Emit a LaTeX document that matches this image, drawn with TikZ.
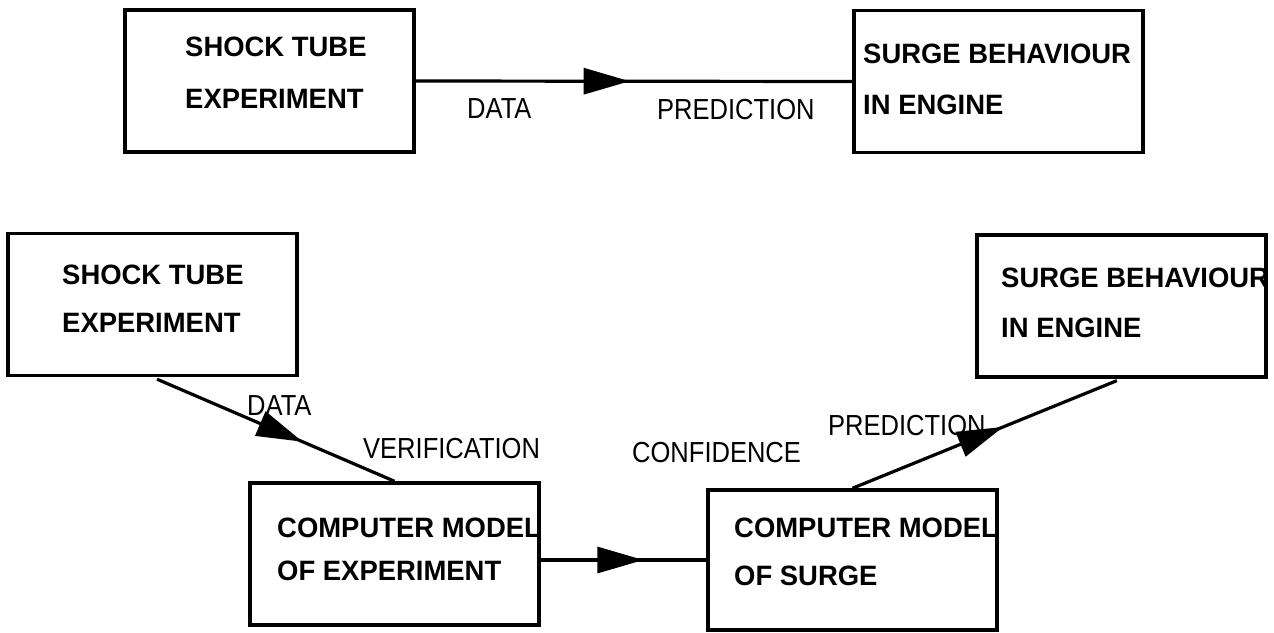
\documentclass[tikz,border=0pt]{standalone}
\usepackage{fontspec}
\setmainfont{Liberation Sans}
\newfontfamily\boxfont[FakeStretch=0.98]{Liberation Sans}
\newfontfamily\labfont[FakeStretch=0.88]{Liberation Sans}
\usetikzlibrary{arrows.meta,decorations.markings}
\begin{document}
\begin{tikzpicture}[x=1pt,y=-1pt,
  box/.style={draw, line width=3.5pt, minimum width=289pt, minimum height=142pt, inner sep=0pt},
  btext/.style={anchor=base west, inner sep=0pt, font=\boxfont\bfseries\fontsize{28}{30}\selectfont},
  ltext/.style={anchor=base west, inner sep=0pt, font=\labfont\fontsize{29}{31}\selectfont},
  conn/.style={line width=3.2pt},
  midarrow/.style={postaction={decorate}, decoration={markings, mark=at position #1 with {\arrow{Triangle[length=46pt,width=26pt]}}}}]
\useasboundingbox (0,0) rectangle (1274,632);
% boxes
\node[box] (b1) at (269.5,81) {};
\node[box] (b2) at (998.5,81.5) {};
\node[box] (b3) at (152.5,304.5) {};
\node[box] (b6) at (1121.5,306) {};
\node[box] (b4) at (394.5,554) {};
\node[box, minimum height=140pt] (b5) at (852.5,560) {};
% box texts
\node[btext] (t1a) at (185,56) {SHOCK TUBE};
\node[btext] (t1b) at (185,108) {EXPERIMENT};
\node[btext] (t2a) at (863,63) {SURGE BEHAVIOUR};
\node[btext] (t2b) at (863,114) {IN ENGINE};
\node[btext] (t3a) at (62,284) {SHOCK TUBE};
\node[btext] (t3b) at (62,332) {EXPERIMENT};
\node[btext] (t6a) at (1001,287) {SURGE BEHAVIOUR};
\node[btext] (t6b) at (1001,337) {IN ENGINE};
\node[btext] (t4a) at (277,537) {COMPUTER MODEL};
\node[btext] (t4b) at (277,580) {OF EXPERIMENT};
\node[btext] (t5a) at (734,537) {COMPUTER MODEL};
\node[btext] (t5b) at (734,585) {OF SURGE};
% labels
\node[ltext] (l1) at (467,118) {DATA};
\node[ltext] (l2) at (657,119) {PREDICTION};
\node[ltext] (l3) at (247,415) {DATA};
\node[ltext] (l4) at (363,458) {VERIFICATION};
\node[ltext] (l5) at (632,462) {CONFIDENCE};
\node[ltext] (l6) at (828,435) {PREDICTION};
% connectors
\draw[conn, midarrow=0.49] (b1.east) -- (b2.west);
\draw[conn, midarrow=0.62, shorten <=5pt] (b3.south) -- (b4.north);
\draw[conn, midarrow=0.62] (b4.east |- b5.west) -- (b5.west);
\draw[conn, midarrow=0.56, shorten >=5pt] (b5.north) -- (b6.south);
\end{tikzpicture}
\end{document}
